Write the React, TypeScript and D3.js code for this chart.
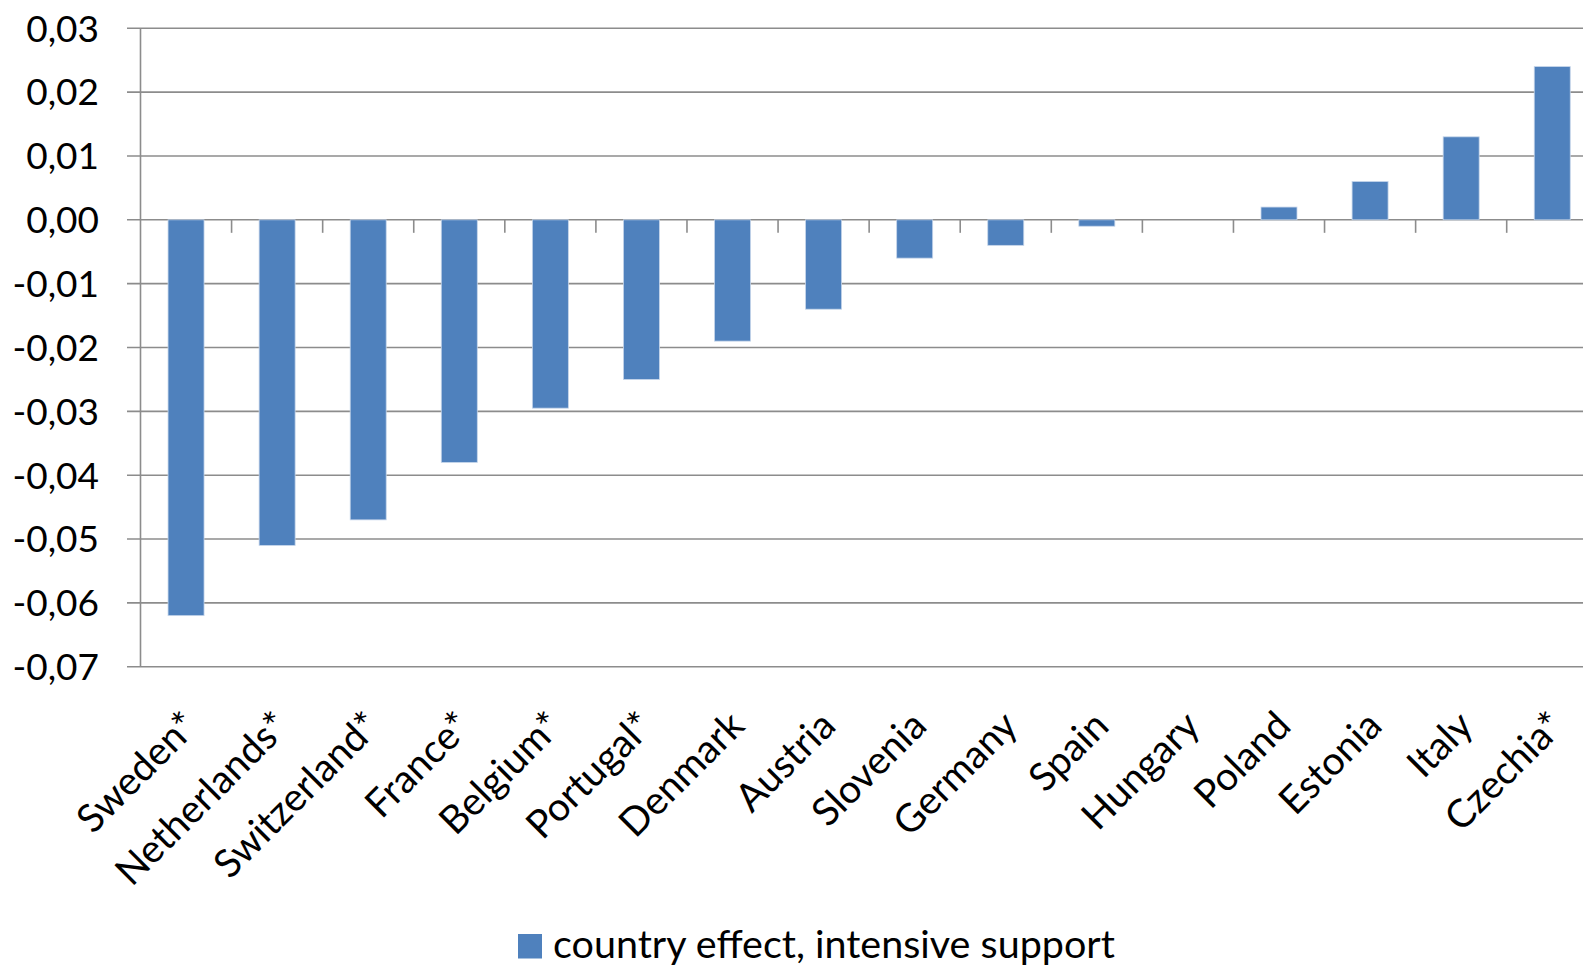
import React from "react";
import * as d3 from "d3";

const categories = ["Sweden*", "Netherlands*", "Switzerland*", "France*", "Belgium*", "Portugal*", "Denmark", "Austria", "Slovenia", "Germany", "Spain", "Hungary", "Poland", "Estonia", "Italy", "Czechia*"];
const values = [-0.062, -0.051, -0.047, -0.038, -0.0295, -0.025, -0.019, -0.014, -0.006, -0.004, -0.001, 0, 0.002, 0.006, 0.013, 0.024];
const yTicks = [0.03, 0.02, 0.01, 0, -0.01, -0.02, -0.03, -0.04, -0.05, -0.06, -0.07];
const seriesName = "country effect, intensive support";

const W = 1583, H = 966;
const FONT = "Lato, 'Open Sans', sans-serif";
const GRID = "#8c8c8c";
const BAR = "#4f81bd";

export default function App() {
  const left = 140.5;
  const band = 91.08;
  const x = d3.scaleBand<string>().domain(categories).range([left, left + band * categories.length]).padding(0);
  const y = d3.scaleLinear().domain([-0.07, 0.03]).range([666.7, 28.3]);
  const y0 = y(0);
  const barW = 36;
  const fmt = (v: number) => (v < 0 ? "-" : "") + Math.abs(v).toFixed(2).replace(".", ",");

  return (
    <svg width={W} height={H} style={{ position: "absolute", left: 0, top: 0, background: "#fff" }} fontFamily={FONT}>
      {yTicks.map((t) => (
        <g key={t}>
          <line x1={127} x2={W + 20} y1={y(t)} y2={y(t)} stroke={GRID} strokeWidth={1.6} />
          <text x={99} y={y(t)} dy="0.36em" textAnchor="end" fontSize={37} fill="#000">{fmt(t)}</text>
        </g>
      ))}
      <line x1={left} x2={left} y1={y(0.03)} y2={y(-0.07)} stroke={GRID} strokeWidth={1.6} />
      {categories.map((c, i) => (
        i > 0 ? <line key={"t" + c} x1={x(c)!} x2={x(c)!} y1={y0} y2={y0 + 13} stroke={GRID} strokeWidth={1.6} /> : null
      ))}
      {categories.map((c, i) => {
        const v = values[i];
        if (v === 0) return null;
        const cx = x(c)! + x.bandwidth() / 2;
        return (
          <rect key={c} x={cx - barW / 2} width={barW} y={Math.min(y(v), y0)} height={Math.abs(y(v) - y0)} fill={BAR} stroke="#c5d5ea" strokeWidth={0.8} />
        );
      })}
      {categories.map((c) => {
        const cx = x(c)! + x.bandwidth() / 2;
        const ax = cx + 14, ay = 728;
        return (
          <text key={"l" + c} x={ax} y={ay} textAnchor="end" fontSize={39} fill="#000" transform={`rotate(-45 ${ax} ${ay})`}>{c}</text>
        );
      })}
      <rect x={518} y={934} width={24} height={24.5} fill={BAR} />
      <text x={553} y={958} fontSize={39.5} fill="#000">{seriesName}</text>
    </svg>
  );
}
